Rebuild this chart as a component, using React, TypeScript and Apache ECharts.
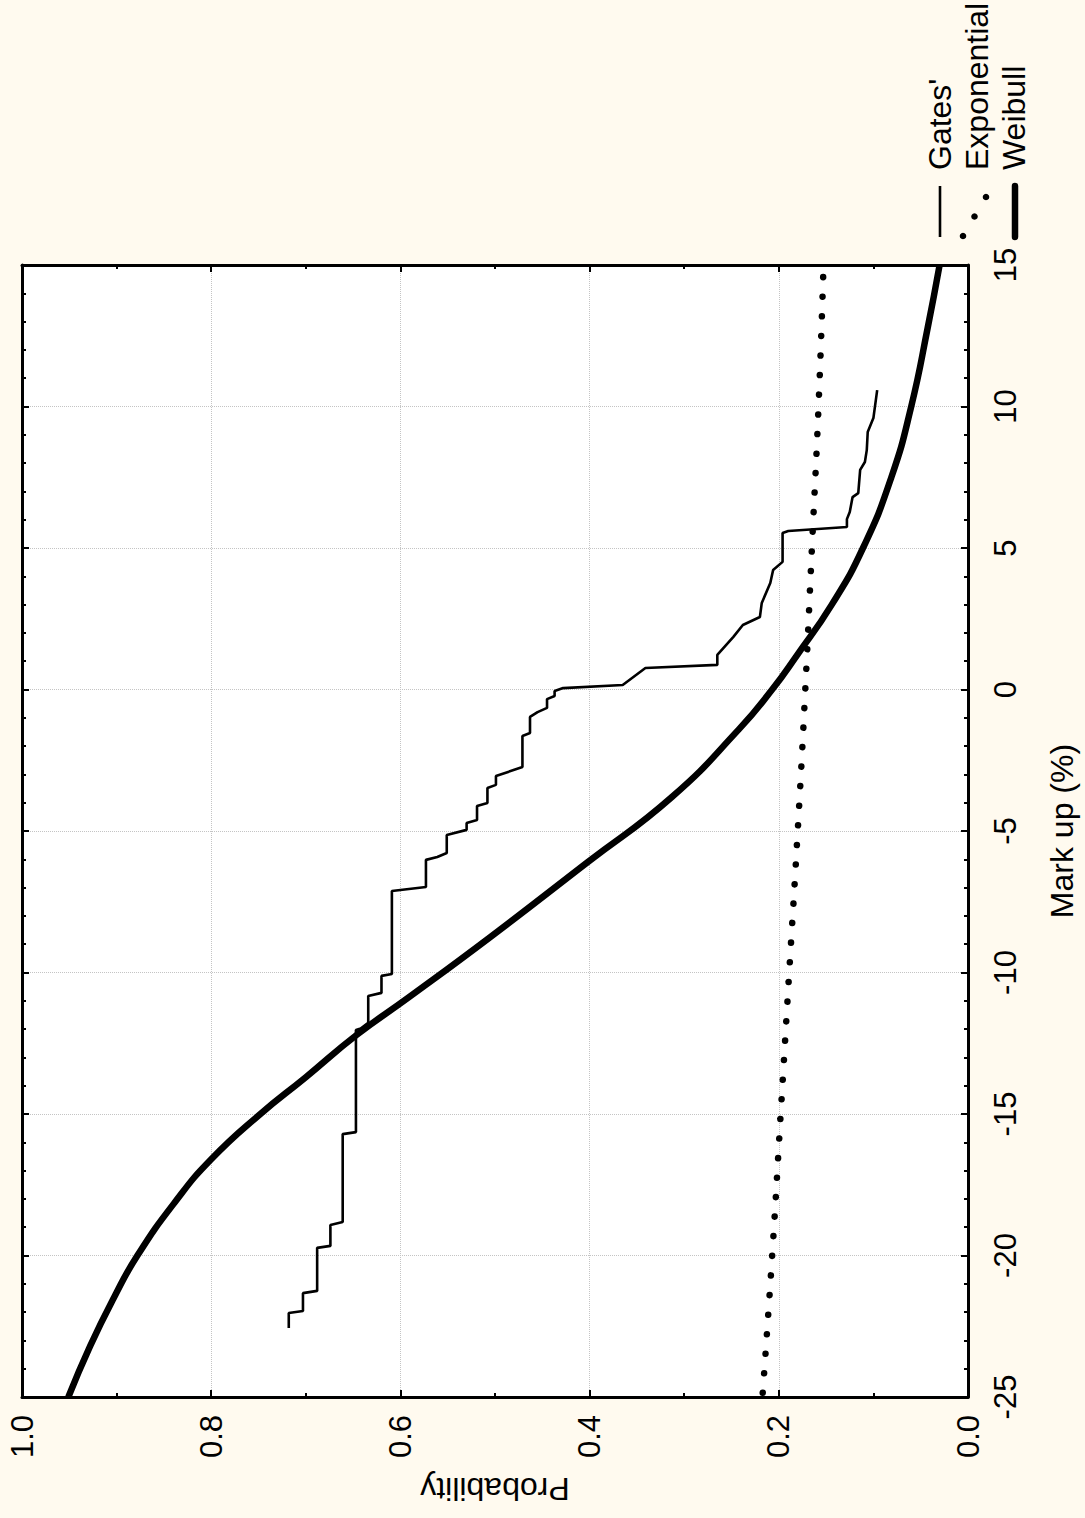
import React, { useEffect, useRef } from "react";
import * as echarts from "echarts";

// Probability (x axis, drawn inverted at the bottom) vs Mark up (%) (y axis, right side)
const probTicks = [0, 0.2, 0.4, 0.6, 0.8, 1.0];
const markupTicks = [-25, -20, -15, -10, -5, 0, 5, 10, 15];

// Gates' empirical step curve
const gatesProb = [
  0.718, 0.718, 0.703, 0.703, 0.688, 0.688, 0.674, 0.674, 0.661, 0.661,
  0.647, 0.647, 0.642, 0.634, 0.634, 0.620, 0.620, 0.609, 0.609, 0.573,
  0.573, 0.561, 0.551, 0.551, 0.530, 0.530, 0.519, 0.519, 0.508, 0.508,
  0.499, 0.499, 0.471, 0.471, 0.463, 0.463, 0.455, 0.445, 0.445, 0.437,
  0.437, 0.428, 0.365, 0.341, 0.265, 0.265, 0.248, 0.238, 0.220, 0.218,
  0.209, 0.206, 0.196, 0.196, 0.190, 0.128, 0.128, 0.125, 0.122, 0.116,
  0.114, 0.109, 0.107, 0.106, 0.100, 0.096,
];
const gatesMarkup = [
  -22.56, -22.03, -21.96, -21.33, -21.25, -19.73, -19.66, -18.92, -18.82, -15.71,
  -15.64, -12.03, -11.98, -11.78, -10.83, -10.72, -10.12, -10.05, -7.12, -6.98,
  -6.02, -5.92, -5.78, -5.14, -4.96, -4.72, -4.61, -4.12, -4.01, -3.48,
  -3.37, -3.06, -2.74, -1.64, -1.54, -0.97, -0.80, -0.65, -0.34, -0.23,
  -0.05, 0.05, 0.16, 0.76, 0.87, 1.22, 1.86, 2.28, 2.56, 3.06,
  3.76, 4.22, 4.51, 5.53, 5.60, 5.74, 6.02, 6.27, 6.80, 6.94,
  7.76, 8.04, 8.46, 9.10, 9.59, 10.58,
];

// Exponential fit (dotted)
const expMarkup = [-24.85, -20, -15, -10, -5, 0, 5, 10, 14.7];
const expProb = [0.217, 0.207, 0.198, 0.189, 0.180, 0.172, 0.165, 0.158, 0.153];

// Weibull fit (thick)
const weibullMarkup = [
  -25, -23.2, -21.5, -20, -18.1, -16.6, -15, -13.7, -12.2, -10.9, -8.75,
  -6.1, -3.8, -1.4, 0, 1.2, 3, 5, 7.5, 10, 12.8, 15,
];
const weibullProb = [
  0.951, 0.928, 0.903, 0.878, 0.838, 0.800, 0.748, 0.700, 0.646, 0.592, 0.505,
  0.402, 0.313, 0.242, 0.207, 0.181, 0.144, 0.111, 0.081, 0.060, 0.0425, 0.030,
];

const legendNames = ["Gates'", "Exponential", "Weibull"];

const FONT = "'Liberation Sans', Arial, Helvetica, sans-serif";
const BG = "#fffaef";

function zip(xs: number[], ys: number[]) {
  return xs.map((x, i) => [x, ys[i]]);
}

export default function App() {
  const ref = useRef<HTMLDivElement>(null);

  useEffect(() => {
    if (!ref.current) return;
    const chart = echarts.init(ref.current, null, { renderer: "svg" });

    const axisLine = { show: true, onZero: false, lineStyle: { color: "#000", width: 3 } };
    const axisTick = { show: true, inside: true, length: 7, lineStyle: { color: "#000", width: 2 } };
    const split = { show: true, lineStyle: { color: "#c4c4c4", type: "dotted", width: 1 } };

    const xBase = {
      type: "value",
      min: probTicks[0],
      max: probTicks[probTicks.length - 1],
      interval: 0.2,
      inverse: true,
      axisLine,
      axisTick,
      minorTick: { show: true, splitNumber: 2, length: 4, lineStyle: { color: "#000", width: 2 } },
    };
    const yBase = {
      type: "value",
      min: markupTicks[0],
      max: markupTicks[markupTicks.length - 1],
      interval: 5,
      axisLine,
      axisTick,
      minorTick: { show: true, splitNumber: 5, length: 4, lineStyle: { color: "#000", width: 2 } },
    };

    const option: any = {
      animation: false,
      backgroundColor: BG,
      grid: {
        left: 22,
        right: 117,
        top: 265,
        bottom: 121,
        show: true,
        backgroundColor: "#ffffff",
        borderWidth: 0,
        containLabel: false,
        outerBoundsMode: "none",
      },
      xAxis: [
        {
          ...xBase,
          position: "bottom",
          splitLine: split,
          axisLabel: {
            rotate: 90,
            margin: 18,
            fontSize: 31,
            color: "#000",
            fontFamily: FONT,
            formatter: (v: number) => v.toFixed(1),
          },
          name: "Probability",
          nameLocation: "middle",
          nameGap: 76,
          nameRotate: 180,
          nameTextStyle: { fontSize: 32, color: "#000", fontFamily: FONT },
        },
        {
          ...xBase,
          position: "top",
          splitLine: { show: false },
          axisLabel: { show: false },
        },
      ],
      yAxis: [
        {
          ...yBase,
          position: "right",
          splitLine: split,
          axisLabel: {
            rotate: 90,
            margin: 22,
            fontSize: 31,
            color: "#000",
            fontFamily: FONT,
          },
          name: "Mark up (%)",
          nameLocation: "middle",
          nameGap: 78,
          nameRotate: 90,
          nameTextStyle: { fontSize: 32, color: "#000", fontFamily: FONT },
        },
        {
          ...yBase,
          position: "left",
          splitLine: { show: false },
          axisLabel: { show: false },
        },
      ],
      series: [
        {
          name: legendNames[0],
          type: "line",
          xAxisIndex: 0,
          yAxisIndex: 0,
          data: zip(gatesProb, gatesMarkup),
          showSymbol: false,
          symbol: "none",
          lineStyle: { color: "#000", width: 2.6 },
        },
        {
          name: legendNames[1],
          type: "line",
          xAxisIndex: 0,
          yAxisIndex: 0,
          data: zip(expProb, expMarkup),
          showSymbol: false,
          symbol: "none",
          smooth: true,
          lineStyle: { color: "#000", width: 6.5, type: [0.1, 19.5], cap: "round" },
        },
        {
          name: legendNames[2],
          type: "line",
          xAxisIndex: 0,
          yAxisIndex: 0,
          data: zip(weibullProb, weibullMarkup),
          showSymbol: false,
          symbol: "none",
          smooth: 0.5,
          lineStyle: { color: "#000", width: 6.5 },
        },
      ],
      graphic: [
        { type: "line", shape: { x1: 940, y1: 186, x2: 940, y2: 237 }, style: { stroke: "#000", lineWidth: 2.6 } },
        { type: "circle", shape: { cx: 963, cy: 236, r: 3.3 }, style: { fill: "#000" } },
        { type: "circle", shape: { cx: 974.5, cy: 216.5, r: 3.3 }, style: { fill: "#000" } },
        { type: "circle", shape: { cx: 986, cy: 197, r: 3.3 }, style: { fill: "#000" } },
        { type: "line", shape: { x1: 1015, y1: 186, x2: 1015, y2: 237 }, style: { stroke: "#000", lineWidth: 6.5, lineCap: "round" } },
        {
          type: "text",
          x: 940,
          y: 170,
          rotation: Math.PI / 2,
          style: { text: legendNames[0], font: `32px ${FONT}`, fill: "#000", textAlign: "left", textVerticalAlign: "middle" },
        },
        {
          type: "text",
          x: 977,
          y: 170,
          rotation: Math.PI / 2,
          style: { text: legendNames[1], font: `32px ${FONT}`, fill: "#000", textAlign: "left", textVerticalAlign: "middle" },
        },
        {
          type: "text",
          x: 1014,
          y: 170,
          rotation: Math.PI / 2,
          style: { text: legendNames[2], font: `32px ${FONT}`, fill: "#000", textAlign: "left", textVerticalAlign: "middle" },
        },
      ],
    };

    chart.setOption(option);
    return () => chart.dispose();
  }, []);

  return (
    <div
      ref={ref}
      style={{ position: "absolute", left: 0, top: 0, width: 1085, height: 1518, background: BG }}
    />
  );
}
